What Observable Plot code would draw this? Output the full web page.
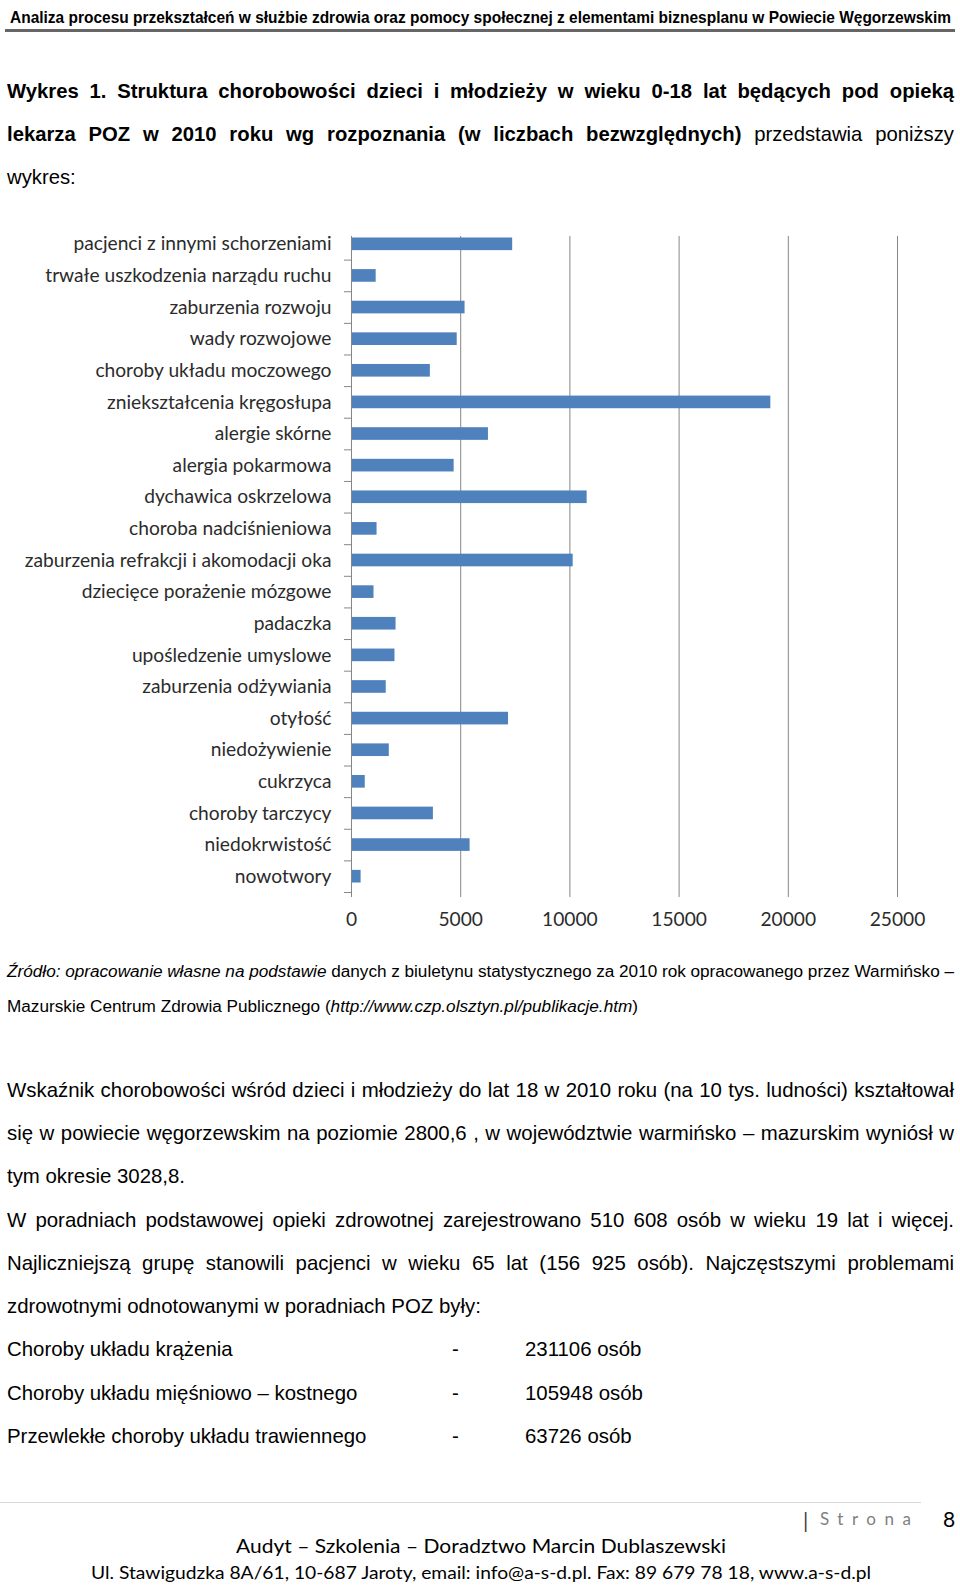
<!DOCTYPE html>
<html><head><meta charset="utf-8">
<script src="https://cdn.jsdelivr.net/npm/d3@7"></script>
<script src="https://cdn.jsdelivr.net/npm/@observablehq/plot@0.6"></script>
<style>
html,body{margin:0;padding:0;background:#fff;}
#page{position:relative;width:960px;height:1587px;overflow:hidden;font-family:"Liberation Sans",Arial,sans-serif;color:#000;}
.ln{position:absolute;white-space:nowrap;transform-origin:0 50%;}
#chart{position:absolute;left:0;top:200px;}
#hrule{position:absolute;left:5px;top:29px;width:950px;height:3px;background:#666;}
#frule{position:absolute;left:0;top:1502px;width:921px;height:1px;background:#d9d9d9;}
</style></head><body><div id="page"><div id="hrule"></div><div id="frule"></div><div id="chart"></div></div>
<script>
// ---------- DATA ----------
const categories = [
  "pacjenci z innymi schorzeniami",
  "trwałe uszkodzenia narządu ruchu",
  "zaburzenia rozwoju",
  "wady rozwojowe",
  "choroby układu moczowego",
  "zniekształcenia kręgosłupa",
  "alergie skórne",
  "alergia pokarmowa",
  "dychawica oskrzelowa",
  "choroba nadciśnieniowa",
  "zaburzenia refrakcji i akomodacji oka",
  "dziecięce porażenie mózgowe",
  "padaczka",
  "upośledzenie umyslowe",
  "zaburzenia odżywiania",
  "otyłość",
  "niedożywienie",
  "cukrzyca",
  "choroby tarczycy",
  "niedokrwistość",
  "nowotwory"
];
const values = [7380, 1130, 5200, 4840, 3610, 19200, 6270, 4700, 10790, 1170, 10150, 1030, 2040, 1990, 1590, 7190, 1730, 630, 3750, 5430, 440];
const xTicks = [0, 5000, 10000, 15000, 20000, 25000];

const headerText = "Analiza procesu przekształceń w służbie zdrowia oraz pomocy społecznej z elementami biznesplanu w Powiecie Węgorzewskim";
const titleLines = [
  [["Wykres 1. Struktura chorobowości dzieci i młodzieży w wieku 0-18 lat będących pod opieką", "b"]],
  [["lekarza POZ w 2010 roku wg rozpoznania (w liczbach bezwzględnych)", "b"], [" przedstawia poniższy", ""]],
  [["wykres:", ""]]
];
const sourceLines = [
  [["Źródło: opracowanie własne na podstawie", "i"], [" danych z biuletynu statystycznego za 2010 rok opracowanego przez Warmińsko –", ""]],
  [["Mazurskie Centrum Zdrowia Publicznego (", ""], ["http://www.czp.olsztyn.pl/publikacje.htm", "i"], [")", ""]]
];
const bodyLines = [
  "Wskaźnik chorobowości wśród dzieci i młodzieży do lat 18 w 2010 roku (na 10 tys. ludności) kształtował",
  "się w powiecie węgorzewskim na poziomie 2800,6 , w województwie warmińsko – mazurskim wyniósł w",
  "tym okresie 3028,8.",
  "W poradniach podstawowej opieki zdrowotnej zarejestrowano 510 608 osób w wieku 19 lat i więcej.",
  "Najliczniejszą grupę stanowili pacjenci w wieku 65 lat (156 925 osób). Najczęstszymi problemami",
  "zdrowotnymi odnotowanymi w poradniach POZ były:"
];
const bodyJustified = [true, true, false, true, true, false];
const tableLabels = ["Choroby układu krążenia", "Choroby układu mięśniowo – kostnego", "Przewlekłe choroby układu trawiennego"];
const tableValues = ["231106 osób", "105948 osób", "63726 osób"];
const footerLines = [
  "Audyt – Szkolenia – Doradztwo Marcin Dublaszewski",
  "Ul. Stawigudzka 8A/61, 10-687 Jaroty, email: info@a-s-d.pl. Fax: 89 679 78 18, www.a-s-d.pl"
];
const pageLabel = "Strona";
const pageNumber = "8";

// ---------- TEXT HELPERS ----------
const page = document.getElementById("page");
const ARIAL = '"Liberation Sans", Arial, sans-serif';
const CAL = 'Lato, "Open Sans", sans-serif';
function place(runs, o) {
  const d = document.createElement("div");
  d.className = "ln";
  d.style.fontSize = o.size + "px";
  d.style.fontFamily = o.family || ARIAL;
  if (o.color) d.style.color = o.color;
  if (o.bold) d.style.fontWeight = "bold";
  if (o.letterSpacing) d.style.letterSpacing = o.letterSpacing + "px";
  runs.forEach(([t, st]) => {
    const s = document.createElement("span");
    s.textContent = t;
    if (st && st.includes("b")) s.style.fontWeight = "bold";
    if (st && st.includes("i")) s.style.fontStyle = "italic";
    d.appendChild(s);
  });
  const lh = Math.round(o.size * 1.4);
  d.style.lineHeight = lh + "px";
  d.style.left = o.left + "px";
  d.style.top = (o.cy - lh / 2) + "px";
  page.appendChild(d);
  const nat = d.getBoundingClientRect().width;
  let s = o.scale || 1;
  if (o.fitWidth) s = o.fitWidth / nat;
  if (o.justify) {
    const text = runs.map(r => r[0]).join("");
    const nSp = (text.match(/ /g) || []).length;
    const extra = o.justify / s - nat;
    if (nSp > 0) d.style.wordSpacing = (extra / nSp) + "px";
  }
  d.style.transform = `scaleX(${s})`;
  return s;
}

// header
place([[headerText, "b"]], {left: 10, cy: 18, size: 17, fitWidth: 941});

// title
const sTitle = place(titleLines[2], {left: 7, cy: 176, size: 21, fitWidth: 68.7});
place(titleLines[0], {left: 7, cy: 90, size: 21, scale: sTitle, justify: 947});
place(titleLines[1], {left: 7, cy: 133, size: 21, scale: sTitle, justify: 947});

// source
const sSrc = place(sourceLines[1], {left: 7, cy: 1007, size: 16, fitWidth: 631});
place(sourceLines[0], {left: 7, cy: 972, size: 16, scale: sSrc, justify: 947});

// body
const bodyCy = [1089.5, 1132, 1175.5, 1219, 1262.5, 1305];
const sBody = place([[bodyLines[2], ""]], {left: 7, cy: bodyCy[2], size: 21, fitWidth: 178});
bodyLines.forEach((t, i) => {
  if (i === 2) return;
  place([[t, ""]], {left: 7, cy: bodyCy[i], size: 21, scale: sBody, justify: bodyJustified[i] ? 947 : 0});
});
const rowCy = [1348.5, 1392, 1435.5];
tableLabels.forEach((t, i) => {
  place([[t, ""]], {left: 7, cy: rowCy[i], size: 21, scale: sBody});
  place([["-", ""]], {left: 452, cy: rowCy[i], size: 21, scale: sBody});
  place([[tableValues[i], ""]], {left: 525, cy: rowCy[i], size: 21, scale: sBody});
});

// footer
place([["|", ""]], {left: 803, cy: 1519, size: 21, family: CAL, color: "#404040"});
place([[pageLabel, ""]], {left: 820, cy: 1519, size: 17, family: CAL, color: "#808080", letterSpacing: 8.5});
place([[pageNumber, ""]], {left: 943, cy: 1518, size: 21, family: CAL});
place([[footerLines[0], ""]], {left: 236, cy: 1545, size: 19, family: CAL, fitWidth: 490});
place([[footerLines[1], ""]], {left: 91, cy: 1572, size: 18, family: CAL, fitWidth: 780});

// ---------- CHART ----------
const data = categories.map((c, i) => ({category: c, value: values[i]}));
const H = 740, mTop = 28, mBottom = 48;
const halfStep = (H - mTop - mBottom) / categories.length / 2;
const chart = Plot.plot({
  width: 960,
  height: H,
  marginTop: mTop,
  marginBottom: mBottom,
  marginLeft: 351,
  marginRight: 63,
  style: {fontFamily: CAL, fontSize: "19.2px", color: "#2b2b2b", background: "transparent"},
  x: {domain: [0, 25000], axis: null},
  y: {domain: categories, paddingInner: 0.6, paddingOuter: 0.3, round: false, axis: null},
  marks: [
    Plot.gridX(xTicks.slice(1), {stroke: "#868686", strokeOpacity: 1, insetTop: 8}),
    Plot.barX(data, {x: "value", y: "category", fill: "#4f81bd"}),
    Plot.ruleX([0], {stroke: "#868686", insetTop: 8}),
    Plot.axisX(xTicks, {tickSize: 5, tickPadding: 15, stroke: "#868686", line: true, tickFormat: d3.format("d"), fontSize: 19.2, label: null}),
    Plot.axisY({tickSize: 0, tickPadding: 20, fontSize: 19.2, label: null}),
    Plot.axisY({tickSize: 7, text: null, dy: halfStep, stroke: "#868686", label: null})
  ]
});
document.getElementById("chart").appendChild(chart);
</script>
</body></html>
